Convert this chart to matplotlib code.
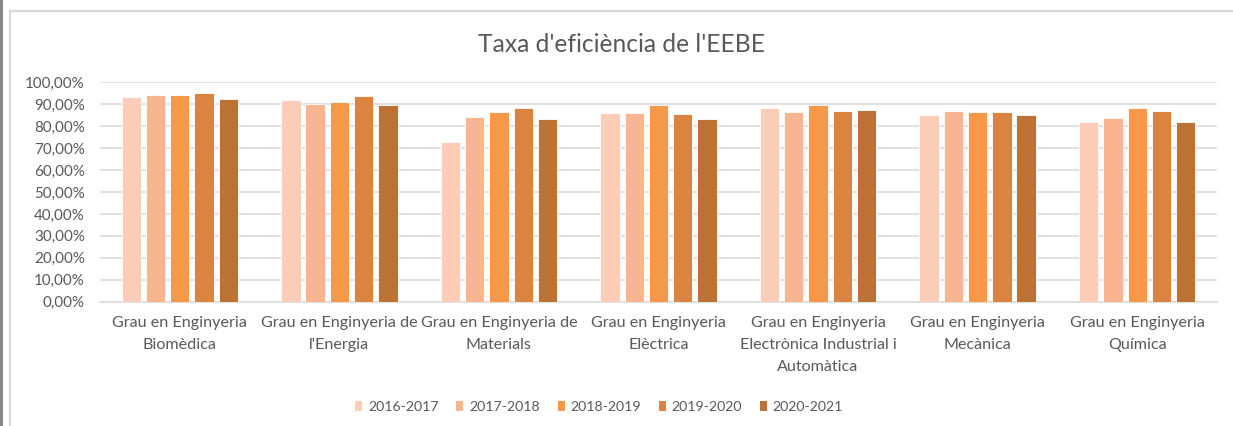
import matplotlib
matplotlib.use("Agg")
import matplotlib.pyplot as plt
import numpy as np
from matplotlib.patches import Rectangle, Patch
from matplotlib.lines import Line2D

plt.rcParams['font.family'] = ['Lato', 'DejaVu Sans']

categories = [
    "Grau en Enginyeria\nBiomèdica",
    "Grau en Enginyeria de\nl'Energia",
    "Grau en Enginyeria de\nMaterials",
    "Grau en Enginyeria\nElèctrica",
    "Grau en Enginyeria\nElectrònica Industrial i\nAutomàtica",
    "Grau en Enginyeria\nMecànica",
    "Grau en Enginyeria\nQuímica",
]
series_names = ["2016-2017", "2017-2018", "2018-2019", "2019-2020", "2020-2021"]
v_2016_2017 = [93.2, 91.9, 72.7, 85.9, 88.2, 85.2, 82.1]
v_2017_2018 = [94.1, 90.1, 84.2, 85.9, 86.4, 87.0, 83.9]
v_2018_2019 = [94.1, 91.0, 86.5, 89.8, 89.8, 86.5, 88.2]
v_2019_2020 = [95.0, 93.6, 88.2, 85.6, 87.0, 86.5, 87.0]
v_2020_2021 = [92.4, 89.8, 83.2, 83.5, 87.4, 85.2, 82.1]
series_values = [v_2016_2017, v_2017_2018, v_2018_2019, v_2019_2020, v_2020_2021]
colors = ["#FBCDB6", "#F8B58F", "#F5984A", "#DB8340", "#BB7234"]
yticks = list(range(0, 101, 10))
ytick_labels = [f"{t},00%" for t in yticks]

W, H = 1233, 426
fig = plt.figure(figsize=(W / 100, H / 100), dpi=100)
fig.patch.set_facecolor("white")

# frame decorations
fig.add_artist(Rectangle((0, 0), 2.5 / W, 1, transform=fig.transFigure, color="#888888", lw=0))
fig.add_artist(Line2D([9.5 / W, 9.5 / W], [0, 1 - 10.5 / H], transform=fig.transFigure, color="#D9D9D9", lw=1.6))
fig.add_artist(Line2D([9.5 / W, 1232 / W], [1 - 10.5 / H, 1 - 10.5 / H], transform=fig.transFigure, color="#D9D9D9", lw=1.6))

left, right, top, bottom = 100, 1217, 82.3, 301.7
ax = fig.add_axes([left / W, 1 - bottom / H, (right - left) / W, (bottom - top) / H])

x = np.arange(len(categories))
pitch = 0.152
bw = 0.121
for i, (name, vals, c) in enumerate(zip(series_names, series_values, colors)):
    ax.bar(x + (i - 2) * pitch, vals, width=bw, color=c, edgecolor="white", linewidth=0.6, label=name, zorder=3)

ax.set_xlim(-0.5, len(categories) - 0.5)
ax.set_ylim(0, 100)
ax.set_yticks(yticks)
ax.set_yticklabels(ytick_labels)
ax.set_xticks(x)
ax.set_xticklabels(categories, linespacing=1.75)
ax.tick_params(axis="both", length=0, labelcolor="#595959")
ax.tick_params(axis="y", pad=11, labelsize=10.9)
ax.tick_params(axis="x", pad=10, labelsize=11.6)
ax.grid(axis="y", color="#D9D9D9", lw=1.1, zorder=0)
for s in ["top", "right", "left"]:
    ax.spines[s].set_visible(False)
ax.spines["bottom"].set_color("#D9D9D9")
ax.spines["bottom"].set_linewidth(1.1)
ax.set_axisbelow(True)

fig.text(621 / W, 1 - 45 / H, "Taxa d'eficiència de l'EEBE", ha="center", va="center", fontsize=17.7, color="#595959")

handles = [Patch(facecolor=c, edgecolor="none") for c in colors]
fig.legend(handles, series_names, loc="center", bbox_to_anchor=(599 / W, 1 - 407 / H), ncol=5, frameon=False,
           fontsize=10.2, labelcolor="#595959", handlelength=0.5, handleheight=0.7, handletextpad=0.4,
           columnspacing=1.25)

fig.savefig("out.png", dpi=100)
